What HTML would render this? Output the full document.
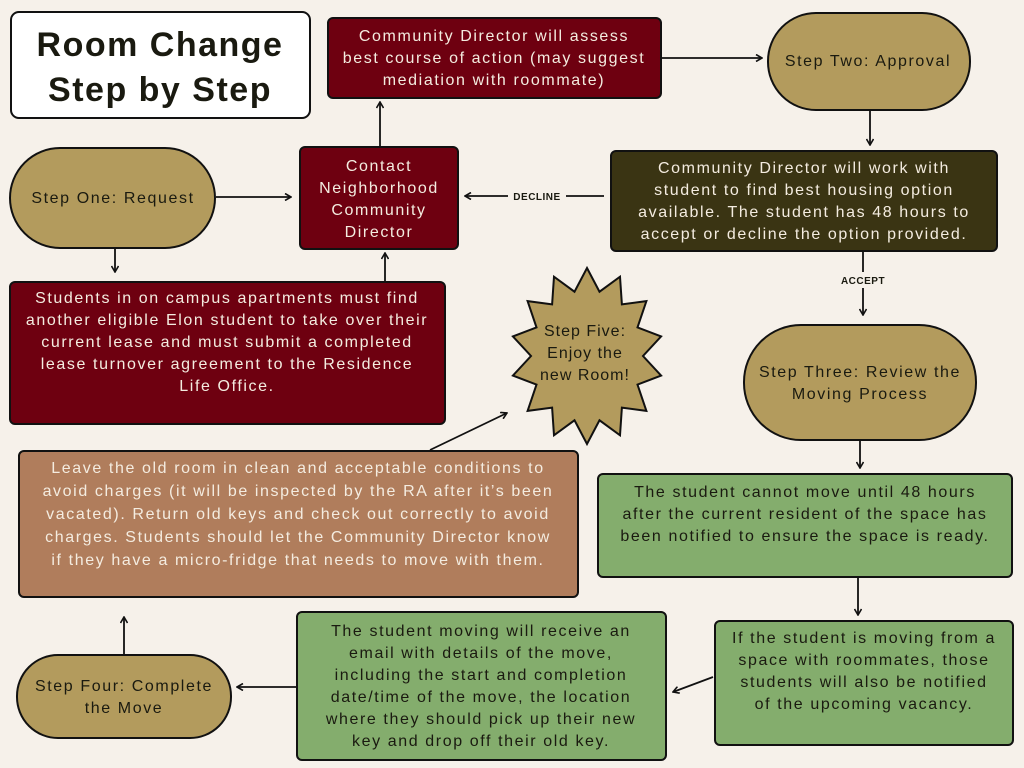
<!DOCTYPE html>
<html><head><style>
body{margin:0;background:#f6f1ea}
svg{display:block}
text{font-family:"Liberation Sans",sans-serif;font-size:16px;letter-spacing:1.6px}
.w{fill:#f4ece0}.k{fill:#1a1a10}
</style></head><body>
<svg width="1024" height="768" viewBox="0 0 1024 768" xmlns="http://www.w3.org/2000/svg">
<defs><marker id="a" markerWidth="8" markerHeight="8" refX="7" refY="4" orient="auto" markerUnits="userSpaceOnUse"><path d="M1,0.5 L7,4 L1,7.5" fill="none" stroke="#111" stroke-width="1.6"/></marker></defs>
<rect width="1024" height="768" fill="#f6f1ea"/>
<g stroke="#111" stroke-width="2">
<rect x="11" y="12" width="299" height="106" rx="8" fill="#fff"/>
<rect x="328" y="18" width="333" height="80" rx="5" fill="#6e0010"/>
<rect x="768" y="13" width="202" height="97" rx="48" fill="#b39b5d"/>
<rect x="10" y="148" width="205" height="100" rx="50" fill="#b39b5d"/>
<rect x="300" y="147" width="158" height="102" rx="5" fill="#6e0010"/>
<rect x="611" y="151" width="386" height="100" rx="5" fill="#3a3413"/>
<rect x="10" y="282" width="435" height="142" rx="5" fill="#6e0010"/>
<rect x="744" y="325" width="232" height="115" rx="57" fill="#b39b5d"/>
<rect x="19" y="451" width="559" height="146" rx="5" fill="#b07d5c"/>
<rect x="598" y="474" width="414" height="103" rx="5" fill="#84ad6d"/>
<rect x="715" y="621" width="298" height="124" rx="5" fill="#84ad6d"/>
<rect x="297" y="612" width="369" height="148" rx="5" fill="#84ad6d"/>
<rect x="17" y="655" width="214" height="83" rx="41" fill="#b39b5d"/>
<polygon fill="#b39b5d" points="587,268 599.5,291.7 620,276.7 621.9,304.4 646.4,301.1 637.5,327.4 661.1,336.4 643,356 661.1,375.6 637.5,384.6 646.4,410.9 621.9,407.6 620,435.3 599.5,420.3 587,444 574.5,420.3 554,435.3 552.1,407.6 527.6,410.9 536.5,384.6 512.9,375.6 531,356 512.9,336.4 536.5,327.4 527.6,301.1 552.1,304.4 554,276.7 574.5,291.7"/>
</g>
<g stroke="#111" stroke-width="1.8" fill="none" marker-end="url(#a)">
<line x1="216" y1="197" x2="291" y2="197"/>
<line x1="604" y1="196" x2="465" y2="196"/>
<line x1="380" y1="146" x2="380" y2="102"/>
<line x1="662" y1="58" x2="762" y2="58"/>
<line x1="870" y1="111" x2="870" y2="145"/>
<line x1="863" y1="252" x2="863" y2="315"/>
<line x1="115" y1="249" x2="115" y2="272"/>
<line x1="385" y1="281" x2="385" y2="253"/>
<line x1="860" y1="441" x2="860" y2="468"/>
<line x1="858" y1="578" x2="858" y2="615"/>
<line x1="713" y1="677" x2="673" y2="692"/>
<line x1="296" y1="687" x2="237" y2="687"/>
<line x1="124" y1="654" x2="124" y2="617"/>
<line x1="430" y1="450" x2="507" y2="413"/>
</g>
<rect x="508" y="188" width="58" height="16" fill="#f6f1ea"/>
<rect x="834" y="272" width="56" height="16" fill="#f6f1ea"/>
<text x="537" y="200" text-anchor="middle" style="font-size:10px;font-weight:bold;letter-spacing:0.5px" class="k">DECLINE</text>
<text x="863" y="284" text-anchor="middle" style="font-size:10px;font-weight:bold;letter-spacing:0.5px" class="k">ACCEPT</text>
<g text-anchor="middle">
<text x="160" y="56" style="font-size:34px;font-weight:bold;letter-spacing:1.5px" class="k">Room Change</text>
<text x="160" y="101" style="font-size:34px;font-weight:bold;letter-spacing:1.5px" class="k">Step by Step</text>
<g class="w">
<text x="494" y="41">Community Director will assess</text>
<text x="494" y="63">best course of action (may suggest</text>
<text x="494" y="85">mediation with roommate)</text>
<text x="379" y="171">Contact</text>
<text x="379" y="193">Neighborhood</text>
<text x="379" y="215">Community</text>
<text x="379" y="237">Director</text>
<text x="804" y="173">Community Director will work with</text>
<text x="804" y="195">student to find best housing option</text>
<text x="804" y="217">available. The student has 48 hours to</text>
<text x="804" y="239">accept or decline the option provided.</text>
<text x="227" y="303">Students in on campus apartments must find</text>
<text x="227" y="325">another eligible Elon student to take over their</text>
<text x="227" y="347">current lease and must submit a completed</text>
<text x="227" y="369">lease turnover agreement to the Residence</text>
<text x="227" y="391">Life Office.</text>
<text x="298" y="473">Leave the old room in clean and acceptable conditions to</text>
<text x="298" y="496">avoid charges (it will be inspected by the RA after it’s been</text>
<text x="298" y="519">vacated). Return old keys and  check out correctly to avoid</text>
<text x="298" y="542">charges. Students should let the Community Director know</text>
<text x="298" y="565">if they have a micro-fridge that needs to move with them.</text>
</g>
<g class="k">
<text x="868" y="66">Step Two: Approval</text>
<text x="113" y="203">Step One: Request</text>
<text x="860" y="377">Step Three: Review the</text>
<text x="860" y="399">Moving Process</text>
<text x="585" y="336" style="letter-spacing:1px">Step Five:</text>
<text x="585" y="358" style="letter-spacing:1px">Enjoy the</text>
<text x="585" y="380" style="letter-spacing:1px">new Room!</text>
<text x="124" y="691">Step Four: Complete</text>
<text x="124" y="713">the Move</text>
<text x="805" y="497">The student cannot move until 48 hours</text>
<text x="805" y="519">after the current resident of the space has</text>
<text x="805" y="541">been notified to ensure the space is ready.</text>
<text x="864" y="643">If the student is moving from a</text>
<text x="864" y="665">space with roommates, those</text>
<text x="864" y="687">students will also be notified</text>
<text x="864" y="709">of the upcoming vacancy.</text>
<text x="481" y="636">The student moving will receive an</text>
<text x="481" y="658">email with details of the move,</text>
<text x="481" y="680">including the start and completion</text>
<text x="481" y="702">date/time of the move, the location</text>
<text x="481" y="724">where they should pick up their new</text>
<text x="481" y="746">key and drop off their old key.</text>
</g>
</g>
</svg>
</body></html>
